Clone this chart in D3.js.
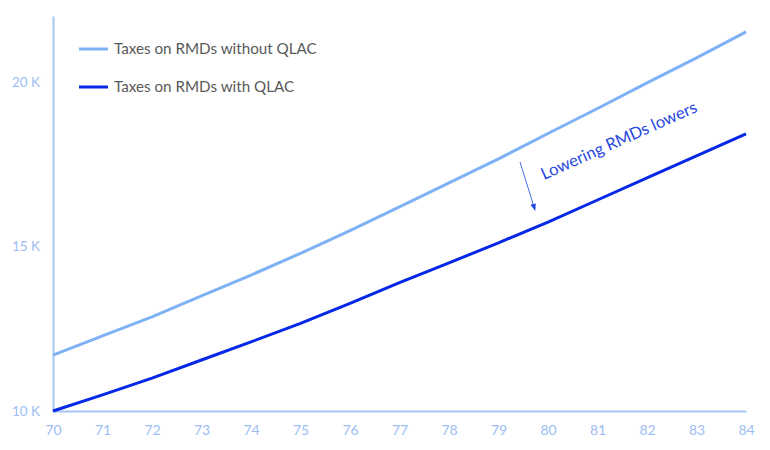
<!DOCTYPE html>
<html><head><meta charset="utf-8">
<script src="https://cdn.jsdelivr.net/npm/d3@7"></script>
<style>body{margin:0;background:#fff}svg{display:block}</style>
</head><body>
<svg id="c" width="770" height="450"></svg>
<script>
const ages = [70,71,72,73,74,75,76,77,78,79,80,81,82,83,84];
const withoutQLAC = [11.70,12.28,12.86,13.50,14.13,14.79,15.48,16.20,16.93,17.66,18.43,19.19,19.97,20.73,21.52];
const withQLAC = [10.00,10.49,11.00,11.55,12.10,12.66,13.27,13.90,14.50,15.11,15.74,16.41,17.08,17.75,18.42];
const yTicks = [10,15,20];
const seriesNames = ["Taxes on RMDs without QLAC","Taxes on RMDs with QLAC"];
const annotation = "Lowering RMDs lowers";

const svg = d3.select("#c");
const font = "Lato, 'Open Sans', sans-serif";
const x = d3.scaleLinear().domain([70,84]).range([53,746]);
const y = d3.scaleLinear().domain([10,22]).range([411,16]);
const axisCol = "#a8c7f7", labCol = "#9dbef5";
const lightCol = "#7fb1f5", darkCol = "#0527e6";

const xAxis = svg.append("g").attr("transform","translate(0,411)")
  .call(d3.axisBottom(x).tickValues(ages).tickSize(0).tickPadding(14).tickFormat(d3.format("d")));
const yAxis = svg.append("g").attr("transform","translate(53,0)")
  .call(d3.axisLeft(y).tickValues(yTicks).tickSize(0).tickPadding(13).tickFormat(d=>d+" K"));
[xAxis,yAxis].forEach(g=>{
  g.select(".domain").attr("stroke",axisCol).attr("stroke-width",2);
  g.selectAll("text").attr("fill",labCol).attr("font-family",font).attr("font-size",14);
});
yAxis.selectAll("text").attr("font-size",13.5);

const line = d3.line().x((d,i)=>x(ages[i])).y(d=>y(d));
svg.append("path").datum(withoutQLAC).attr("d",line).attr("fill","none")
  .attr("stroke",lightCol).attr("stroke-width",3);
svg.append("path").datum(withQLAC).attr("d",line).attr("fill","none")
  .attr("stroke",darkCol).attr("stroke-width",3);

// legend
const leg = svg.append("g");
[[lightCol,49],[darkCol,87]].forEach((c,i)=>{
  leg.append("line").attr("x1",79).attr("x2",108).attr("y1",c[1]).attr("y2",c[1])
    .attr("stroke",c[0]).attr("stroke-width",3);
  leg.append("text").attr("x",114).attr("y",c[1]+5).text(seriesNames[i])
    .attr("fill","#595959").attr("font-family",font).attr("font-size",15.2);
});

// annotation
svg.append("defs").append("marker").attr("id","ah").attr("viewBox","0 0 10 10")
  .attr("refX",9).attr("refY",5).attr("markerWidth",7).attr("markerHeight",7)
  .attr("orient","auto").append("path").attr("d","M0,1 L10,5 L0,9 z").attr("fill","#1f45e0");
svg.append("line").attr("x1",520).attr("y1",162).attr("x2",535).attr("y2",210)
  .attr("stroke","#4a6fe8").attr("stroke-width",1).attr("marker-end","url(#ah)");
svg.append("text").attr("transform","translate(544,180) rotate(-24)").text(annotation)
  .attr("fill","#2747e0").attr("font-family",font).attr("font-size",16.6);
</script>
</body></html>
